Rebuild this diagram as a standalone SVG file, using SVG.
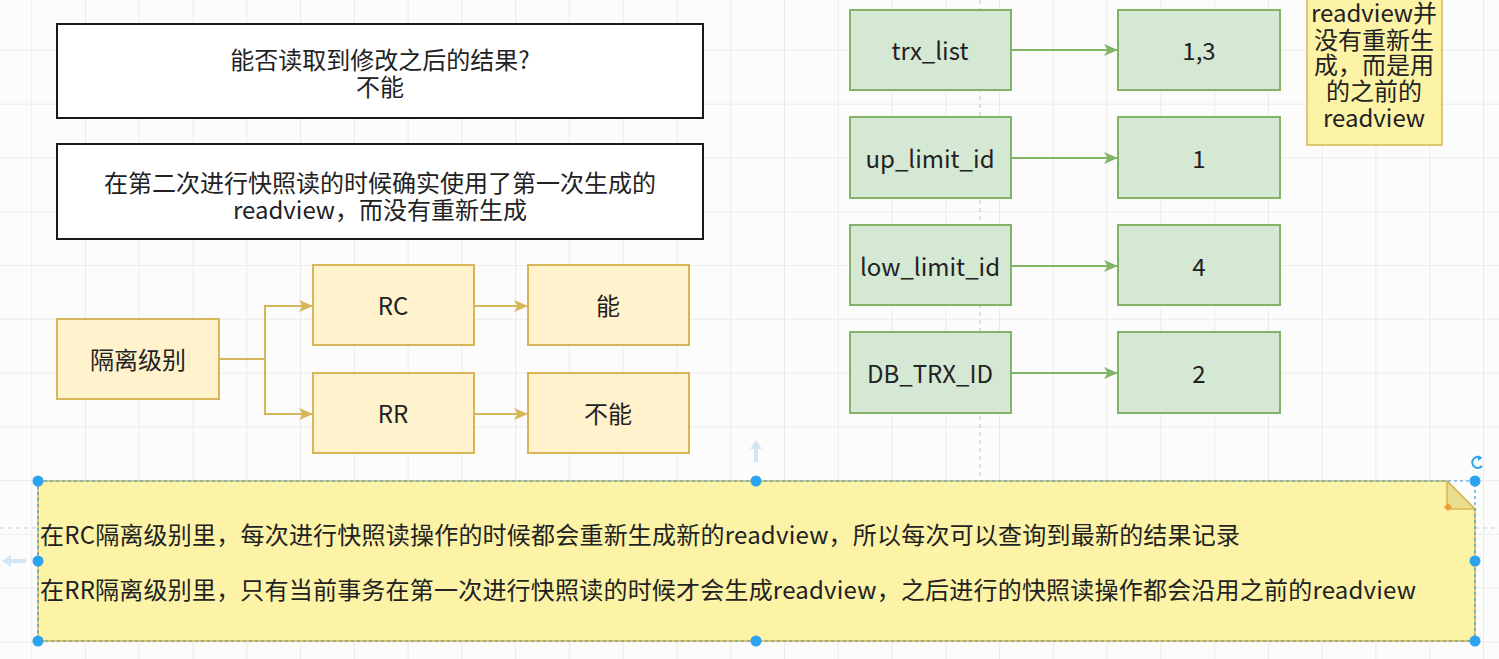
<svg xmlns="http://www.w3.org/2000/svg" width="1499" height="659" viewBox="0 0 1499 659">
<style>
text{font-family:"Noto Sans CJK SC","Noto Sans",sans-serif;fill:#222;font-size:24px;dominant-baseline:central;}
.c{text-anchor:middle}
.white{fill:#fff;stroke:#1a1a1a;stroke-width:2}
.org{fill:#fff2cc;stroke:#d6b656;stroke-width:2}
.grn{fill:#d5e8d4;stroke:#82b366;stroke-width:2}
.note{fill:#fcf3a6;stroke:#d6b656;stroke-width:1.5}
.eo{fill:none;stroke:#d6b656;stroke-width:2}
.eg{fill:none;stroke:#82b366;stroke-width:2}
.h{fill:#2ba3ee}
.pb{stroke:#c8c8c8;stroke-width:1.2;stroke-dasharray:4,4;fill:none}
</style>
<defs>
<pattern id="grid" x="31.2" y="49.9" width="53.77" height="53.77" patternUnits="userSpaceOnUse">
<path d="M0 0H53.77M0 0V53.77" stroke="#e6e6e6" stroke-width="1.5" fill="none"/>
</pattern>
<marker id="ao" viewBox="0 0 14 12" refX="13" refY="6" markerWidth="14" markerHeight="12" markerUnits="userSpaceOnUse" orient="auto">
<path d="M0 0L14 6L0 12L3.5 6Z" fill="#d6b656"/>
</marker>
<marker id="ag" viewBox="0 0 14 12" refX="13" refY="6" markerWidth="14" markerHeight="12" markerUnits="userSpaceOnUse" orient="auto">
<path d="M0 0L14 6L0 12L3.5 6Z" fill="#82b366"/>
</marker>
</defs>
<rect x="0" y="0" width="1499" height="659" fill="#fcfcfc"/>
<rect x="0" y="0" width="1499" height="659" fill="url(#grid)"/>
<g id="page-breaks">
<path class="pb" d="M980 0V481"/>
<path class="pb" d="M0 528H38M1475 528H1499"/>
</g>

<g id="q1">
<rect class="white" x="57" y="24" width="646" height="94"/>
<text class="c" x="380" y="58">能否读取到修改之后的结果?</text>
<text class="c" x="380" y="85">不能</text>
</g>
<g id="q2">
<rect class="white" x="57" y="144" width="646" height="95"/>
<text class="c" x="380" y="181">在第二次进行快照读的时候确实使用了第一次生成的</text>
<text class="c" x="380" y="208">readview，而没有重新生成</text>
</g>

<g id="iso">
<rect class="org" x="57" y="319" width="162" height="80"/>
<text class="c" x="138" y="358">隔离级别</text>
</g>
<g id="rc">
<rect class="org" x="313" y="265" width="161" height="80"/>
<text class="c" x="393" y="304">RC</text>
</g>
<g id="rr">
<rect class="org" x="313" y="373" width="161" height="80"/>
<text class="c" x="393" y="412">RR</text>
</g>
<g id="rc-yes">
<rect class="org" x="528" y="265" width="161" height="80"/>
<text class="c" x="608" y="304">能</text>
</g>
<g id="rr-no">
<rect class="org" x="528" y="373" width="161" height="80"/>
<text class="c" x="608" y="412">不能</text>
</g>

<g id="trx-list">
<rect class="grn" x="850" y="10" width="161" height="80"/>
<text class="c" x="930" y="49">trx_list</text>
</g>
<g id="trx-list-v">
<rect class="grn" x="1118" y="10" width="162" height="80"/>
<text class="c" x="1199" y="49">1,3</text>
</g>
<g id="up-limit">
<rect class="grn" x="850" y="117" width="161" height="81"/>
<text class="c" x="930" y="157">up_limit_id</text>
</g>
<g id="up-limit-v">
<rect class="grn" x="1118" y="117" width="162" height="81"/>
<text class="c" x="1199" y="157">1</text>
</g>
<g id="low-limit">
<rect class="grn" x="850" y="225" width="161" height="80"/>
<text class="c" x="930" y="265">low_limit_id</text>
</g>
<g id="low-limit-v">
<rect class="grn" x="1118" y="225" width="162" height="80"/>
<text class="c" x="1199" y="265">4</text>
</g>
<g id="db-trx">
<rect class="grn" x="850" y="332" width="161" height="81"/>
<text class="c" x="930" y="372">DB_TRX_ID</text>
</g>
<g id="db-trx-v">
<rect class="grn" x="1118" y="332" width="162" height="81"/>
<text class="c" x="1199" y="372">2</text>
</g>

<g id="side-note">
<rect class="note" x="1307" y="-20" width="135" height="165"/>
<text class="c" x="1374" y="11">readview并</text>
<text class="c" x="1374" y="38">没有重新生</text>
<text class="c" x="1374" y="63">成，而是用</text>
<text class="c" x="1374" y="89">的之前的</text>
<text class="c" x="1374" y="116">readview</text>
</g>

<g id="connectors">
<path class="eo" d="M219 359H265V306H312" marker-end="url(#ao)"/>
<path class="eo" d="M265 359V414H312" marker-end="url(#ao)"/>
<path class="eo" d="M474 306H527" marker-end="url(#ao)"/>
<path class="eo" d="M474 414H527" marker-end="url(#ao)"/>
<path class="eg" d="M1011 50H1117" marker-end="url(#ag)"/>
<path class="eg" d="M1011 158H1117" marker-end="url(#ag)"/>
<path class="eg" d="M1011 266H1117" marker-end="url(#ag)"/>
<path class="eg" d="M1011 373H1117" marker-end="url(#ag)"/>
</g>

<g id="bottom-note">
<path class="note" d="M38 481H1447L1475 509V641H38Z"/>
<path d="M1447 481V509H1475Z" fill="#e9dd8c" stroke="#d6b656" stroke-width="1.5"/>
<text x="40" y="533" textLength="1200" lengthAdjust="spacing">在RC隔离级别里，每次进行快照读操作的时候都会重新生成新的readview，所以每次可以查询到最新的结果记录</text>
<text x="40" y="588" textLength="1376" lengthAdjust="spacing">在RR隔离级别里，只有当前事务在第一次进行快照读的时候才会生成readview，之后进行的快照读操作都会沿用之前的readview</text>
</g>

<g id="selection">
<rect x="38" y="481" width="1437" height="160" fill="none" stroke="#3a9fd0" stroke-width="1.2" stroke-dasharray="3,3"/>
<circle class="h" cx="38" cy="481" r="5.5"/>
<circle class="h" cx="756" cy="481" r="5.5"/>
<circle class="h" cx="1475" cy="481" r="5.5"/>
<circle class="h" cx="38" cy="561" r="5.5"/>
<circle class="h" cx="1475" cy="561" r="5.5"/>
<circle class="h" cx="38" cy="641" r="5.5"/>
<circle class="h" cx="756" cy="641" r="5.5"/>
<circle class="h" cx="1475" cy="641" r="5.5"/>
<path d="M1448 503L1452 507L1448 511L1444 507Z" fill="#f39c33"/>
<path d="M1481 458A5.5 5.5 0 1 0 1482 466" fill="none" stroke="#2ba3ee" stroke-width="2"/>
<path d="M1478 455L1482 458L1478 461Z" fill="#2ba3ee"/>
<path d="M756 440L750 449H754V462H758V449H762Z" fill="#d3e6f3"/>
<path d="M2 561L11 555V559H26V563H11V567Z" fill="#d3e6f3"/>
</g>
</svg>
